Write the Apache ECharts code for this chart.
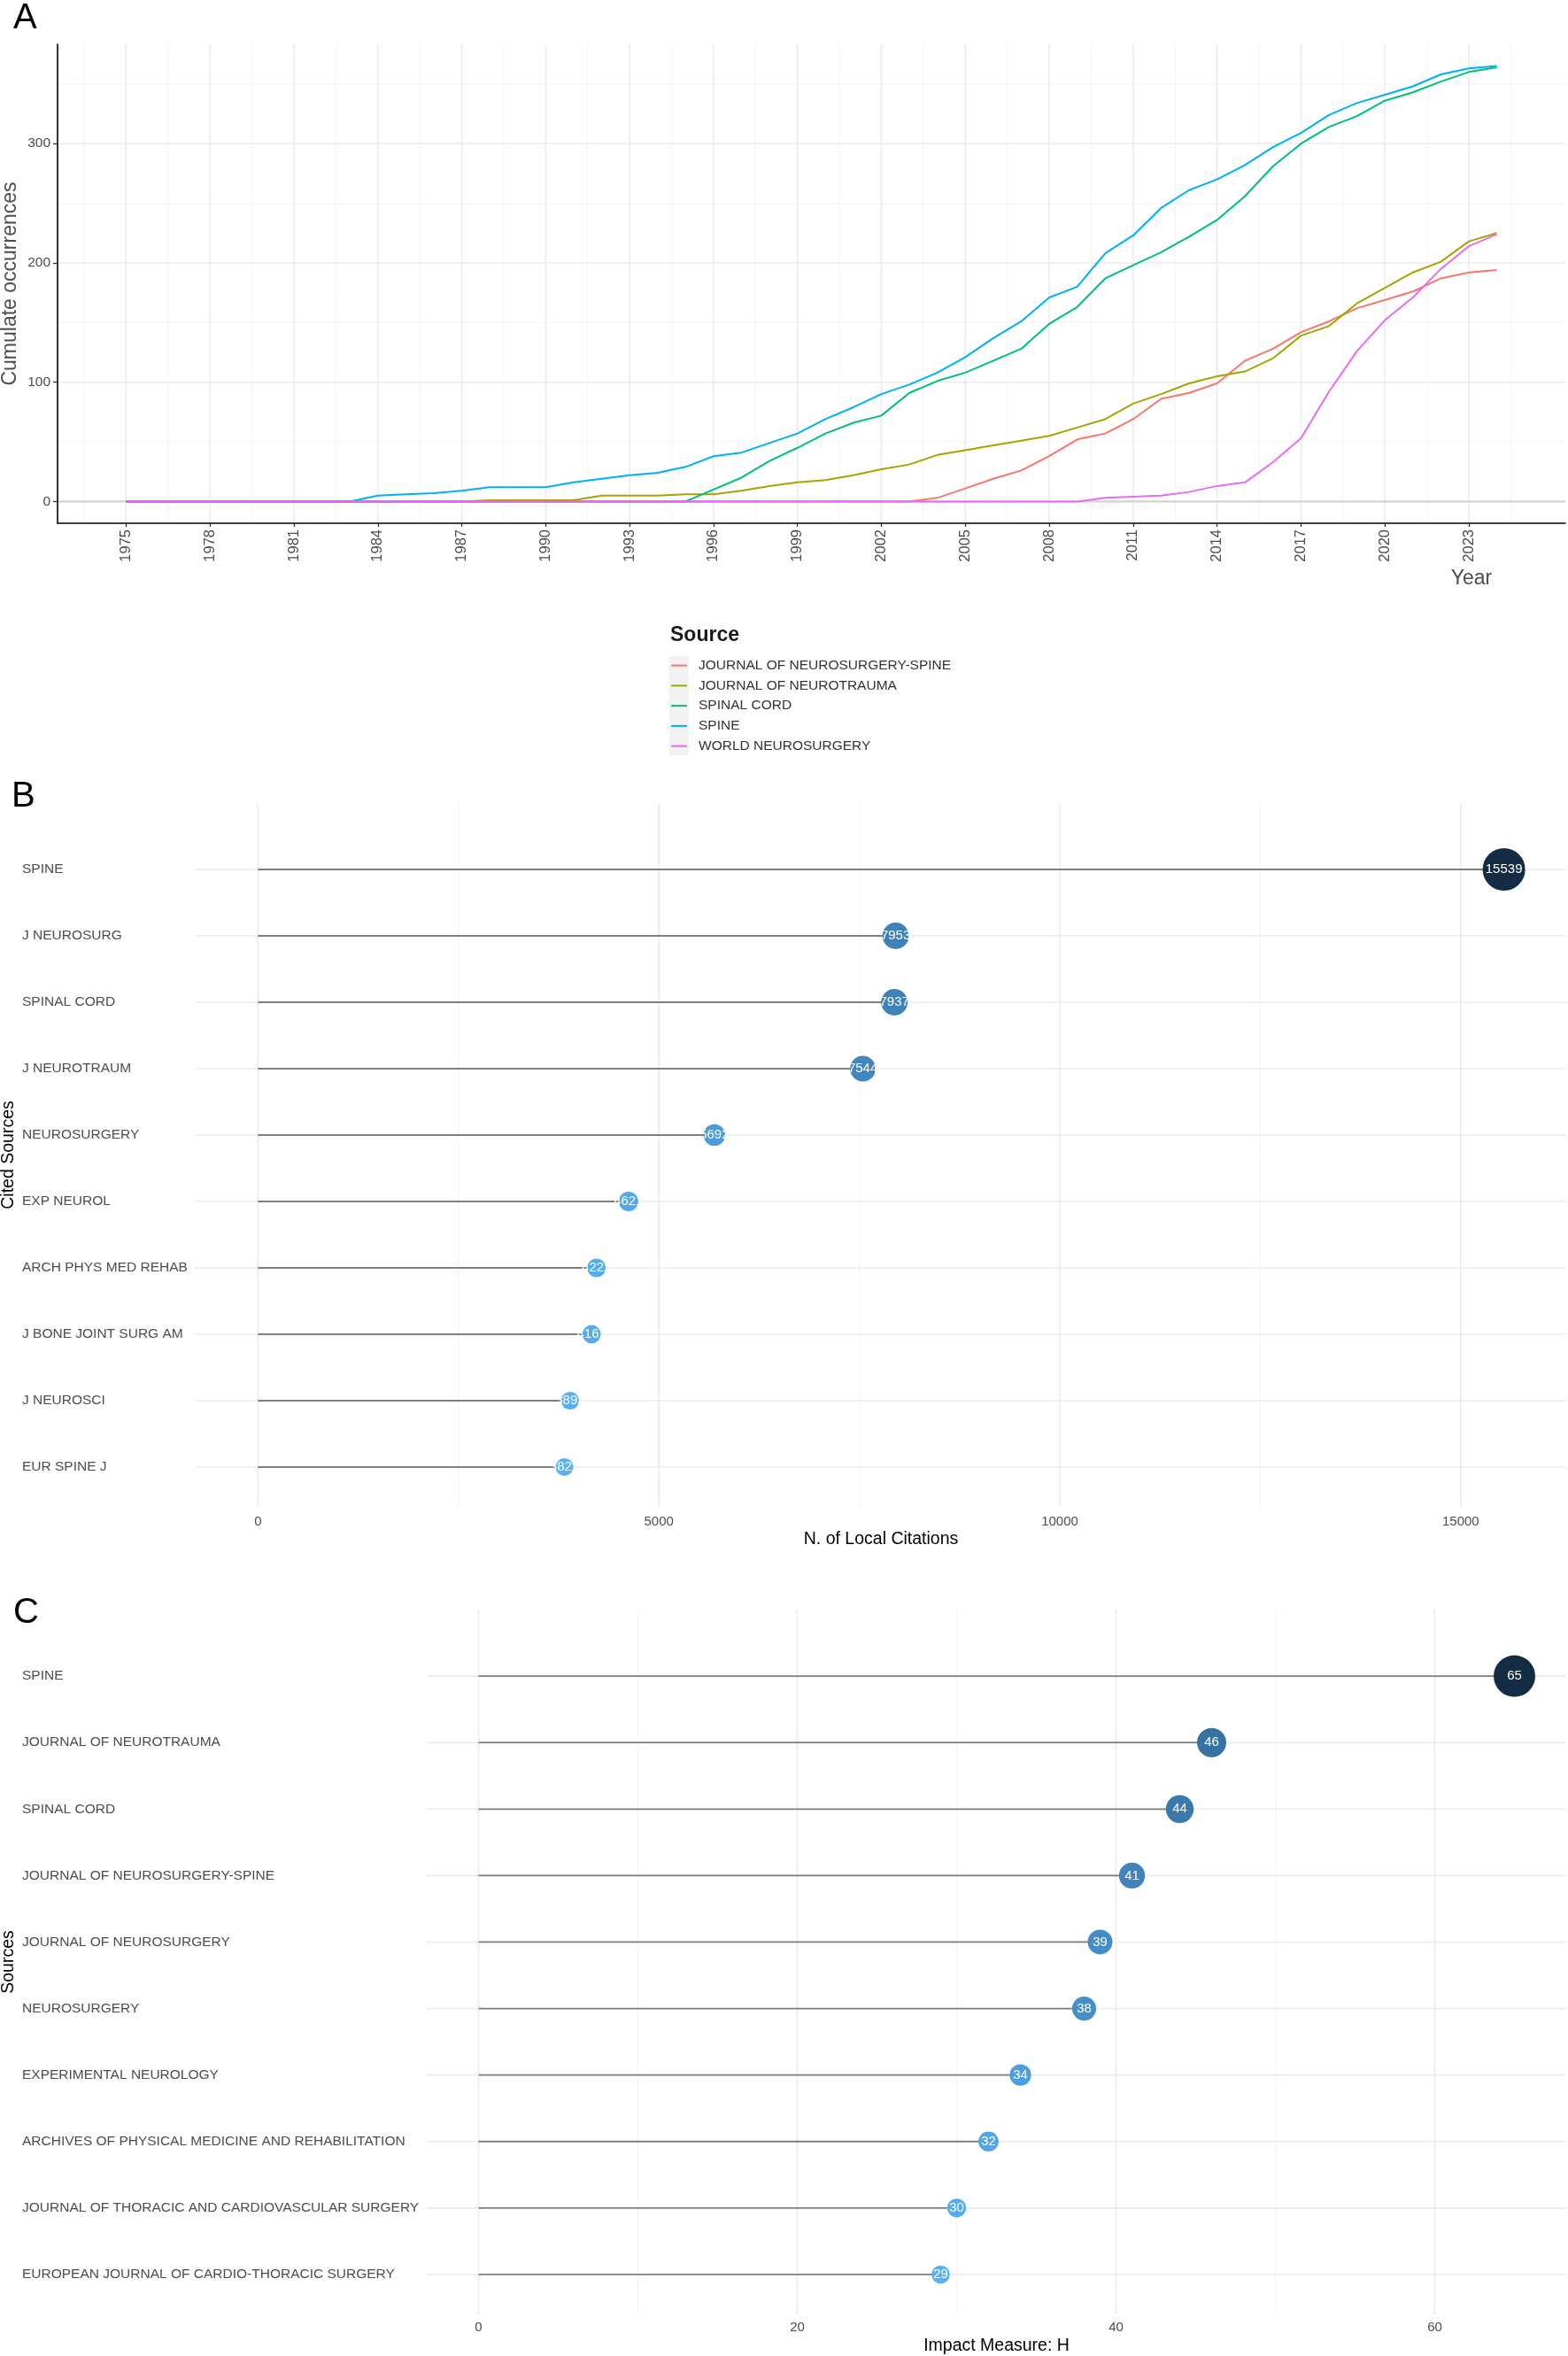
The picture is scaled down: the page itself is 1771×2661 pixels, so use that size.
<!DOCTYPE html>
<html>
<head>
<meta charset="utf-8">
<script src="https://cdn.jsdelivr.net/npm/echarts@6/dist/echarts.min.js"></script>
<style>
html, body { margin: 0; padding: 0; background: #fff; }
#chart { width: 1771px; height: 2661px; }
</style>
</head>
<body>
<div id="chart"></div>
<script>
// ---- panel A : cumulative occurrences by year ----
const years = [1975, 1976, 1977, 1978, 1979, 1980, 1981, 1982, 1983, 1984,
  1985, 1986, 1987, 1988, 1989, 1990, 1991, 1992, 1993, 1994,
  1995, 1996, 1997, 1998, 1999, 2000, 2001, 2002, 2003, 2004,
  2005, 2006, 2007, 2008, 2009, 2010, 2011, 2012, 2013, 2014,
  2015, 2016, 2017, 2018, 2019, 2020, 2021, 2022, 2023, 2024];
const sourceNames = ['JOURNAL OF NEUROSURGERY-SPINE', 'JOURNAL OF NEUROTRAUMA', 'SPINAL CORD', 'SPINE', 'WORLD NEUROSURGERY'];
const sourceColors = ['#F8766D', '#A3A500', '#00BF7D', '#00B0F6', '#E76BF3'];
const neuroSpine = [0, 0, 0, 0, 0, 0, 0, 0, 0, 0, 0, 0, 0, 0, 0, 0, 0, 0, 0, 0,
  0, 0, 0, 0, 0, 0, 0, 0, 0, 3, 11, 19, 26, 38, 52, 57, 69, 86, 91, 99,
  118, 128, 142, 151, 162, 169, 176, 187, 192, 194];
const neurotrauma = [0, 0, 0, 0, 0, 0, 0, 0, 0, 0, 0, 0, 0, 1, 1, 1, 1, 5, 5, 5,
  6, 6, 9, 13, 16, 18, 22, 27, 31, 39, 43, 47, 51, 55, 62, 69, 82, 90, 99, 105,
  109, 120, 139, 147, 166, 179, 192, 201, 218, 225];
const spinalCord = [0, 0, 0, 0, 0, 0, 0, 0, 0, 0, 0, 0, 0, 0, 0, 0, 0, 0, 0, 0,
  0, 10, 20, 34, 45, 57, 66, 72, 91, 101, 108, 118, 128, 149, 163, 187, 198, 209, 222, 236,
  256, 281, 300, 314, 323, 336, 343, 352, 360, 364];
const spine = [0, 0, 0, 0, 0, 0, 0, 0, 0, 5, 6, 7, 9, 12, 12, 12, 16, 19, 22, 24,
  29, 38, 41, 49, 57, 69, 79, 90, 98, 108, 121, 137, 151, 171, 180, 208, 223, 246, 261, 270,
  282, 297, 309, 324, 334, 341, 348, 358, 363, 365];
const worldNeuro = [0, 0, 0, 0, 0, 0, 0, 0, 0, 0, 0, 0, 0, 0, 0, 0, 0, 0, 0, 0,
  0, 0, 0, 0, 0, 0, 0, 0, 0, 0, 0, 0, 0, 0, 0, 3, 4, 5, 8, 13,
  16, 33, 53, 92, 126, 152, 171, 195, 214, 224];
const yearTicks = [1975, 1978, 1981, 1984, 1987, 1990, 1993, 1996, 1999, 2002, 2005, 2008, 2011, 2014, 2017, 2020, 2023];
const countTicks = [0, 100, 200, 300];

// ---- panel B : most local cited sources ----
const citedNames = ['SPINE', 'J NEUROSURG', 'SPINAL CORD', 'J NEUROTRAUM', 'NEUROSURGERY',
  'EXP NEUROL', 'ARCH PHYS MED REHAB', 'J BONE JOINT SURG AM', 'J NEUROSCI', 'EUR SPINE J'];
const citedValues = [15539, 7953, 7937, 7544, 5692, 4621, 4222, 4161, 3893, 3822];
const citeTicks = [0, 5000, 10000, 15000];

// ---- panel C : h-index of sources ----
const hNames = ['SPINE', 'JOURNAL OF NEUROTRAUMA', 'SPINAL CORD', 'JOURNAL OF NEUROSURGERY-SPINE',
  'JOURNAL OF NEUROSURGERY', 'NEUROSURGERY', 'EXPERIMENTAL NEUROLOGY',
  'ARCHIVES OF PHYSICAL MEDICINE AND REHABILITATION', 'JOURNAL OF THORACIC AND CARDIOVASCULAR SURGERY',
  'EUROPEAN JOURNAL OF CARDIO-THORACIC SURGERY'];
const hValues = [65, 46, 44, 41, 39, 38, 34, 32, 30, 29];
const hTicks = [0, 20, 40, 60];

const FONT = 'Liberation Sans, Arial, Helvetica, sans-serif';
const MAJOR = '#ebebeb', MINOR = '#f4f4f4';
const plain = v => String(v);

function mids(arr, addEnds) {
  let out = [];
  for (let i = 1; i < arr.length; i++) out.push((arr[i - 1] + arr[i]) / 2);
  if (addEnds) {
    const step = arr[1] - arr[0];
    out.unshift(arr[0] - step / 2);
    out.push(arr[arr.length - 1] + step / 2);
  }
  return out;
}

// gridlines drawn as a custom series so they follow the axis scale
function gridLines(idx, lines, refX, refY) {
  return {
    type: 'custom', xAxisIndex: idx, yAxisIndex: idx, silent: true, z: 0,
    data: lines.map(l => l.dir === 'v' ? [l.v, refY] : [refX, l.v]),
    renderItem: function (params, api) {
      const l = lines[params.dataIndex];
      const cs = params.coordSys;
      const p = api.coord([api.value(0), api.value(1)]);
      const shape = l.dir === 'v'
        ? { x1: p[0], y1: cs.y, x2: p[0], y2: cs.y + cs.height }
        : { x1: cs.x, y1: p[1], x2: cs.x + cs.width, y2: p[1] };
      return { type: 'line', shape: shape, style: { stroke: l.c, lineWidth: l.w } };
    }
  };
}
function lineSet(dir, vals, c, w) {
  return vals.map(v => ({ dir: dir, v: v, c: c, w: w }));
}

function stems(idx, values) {
  return {
    type: 'custom', xAxisIndex: idx, yAxisIndex: idx, silent: true, z: 2,
    data: values.map((v, i) => [v, i]),
    renderItem: function (params, api) {
      const p0 = api.coord([0, api.value(1)]);
      const p1 = api.coord([api.value(0), api.value(1)]);
      return { type: 'line', shape: { x1: p0[0], y1: p0[1], x2: p1[0], y2: p1[1] },
        style: { stroke: '#7f7f7f', lineWidth: 1.8 } };
    }
  };
}

function dots(idx, values, dMin, dMax) {
  const vMin = Math.min.apply(null, values), vMax = Math.max.apply(null, values);
  return {
    type: 'scatter', xAxisIndex: idx, yAxisIndex: idx, z: 3,
    data: values.map((v, i) => [v, i]),
    symbolSize: function (d) { return dMin + (dMax - dMin) * (d[0] - vMin) / (vMax - vMin); },
    itemStyle: { opacity: 1 },
    label: { show: true, position: 'inside', formatter: p => String(p.value[0]), color: '#fff', fontSize: 15, fontFamily: FONT }
  };
}

const rows = citedNames.map((n, i) => i);

const linesA = [].concat(
  lineSet('v', mids(yearTicks, true), MINOR, 1),
  lineSet('h', mids(countTicks, true).filter(v => v > -18), MINOR, 1),
  lineSet('v', yearTicks, MAJOR, 1.5),
  lineSet('h', countTicks, MAJOR, 1.5),
  lineSet('h', [0], '#d3d3d3', 2.2)
);
const linesB = [].concat(
  lineSet('v', mids(citeTicks, false), MINOR, 1),
  lineSet('v', citeTicks, MAJOR, 1.6),
  lineSet('h', rows, MAJOR, 1.6)
);
const linesC = [].concat(
  lineSet('v', mids(hTicks, false), MINOR, 1),
  lineSet('v', hTicks, MAJOR, 1.6),
  lineSet('h', rows, MAJOR, 1.6)
);

const seriesA = [neuroSpine, neurotrauma, spinalCord, spine, worldNeuro].map((arr, k) => ({
  name: sourceNames[k], type: 'line', xAxisIndex: 0, yAxisIndex: 0, z: 3,
  showSymbol: false, symbol: 'none',
  data: years.map((y, i) => [y, arr[i]]),
  lineStyle: { color: sourceColors[k], width: 2 },
  itemStyle: { color: sourceColors[k] }
}));

const chart = echarts.init(document.getElementById('chart'), null, { renderer: 'canvas' });
const option = {
  animation: false,
  backgroundColor: '#fff',
  textStyle: { fontFamily: FONT },
  grid: [
    { left: 65, top: 50, width: 1703, height: 541, containLabel: false, outerBoundsMode: 'none' },
    { left: 221, top: 907, width: 1548, height: 795, containLabel: false, outerBoundsMode: 'none' },
    { left: 482, top: 1818, width: 1287, height: 796, containLabel: false, outerBoundsMode: 'none' }
  ],
  xAxis: [
    {
      gridIndex: 0, type: 'value', min: 1972.55, max: 2026.45,
      axisLine: { show: true, onZero: false, lineStyle: { color: '#000', width: 1.6 } },
      axisTick: { show: true, customValues: yearTicks, length: 4, lineStyle: { color: '#333', width: 1.3 } },
      axisLabel: { customValues: yearTicks, formatter: plain, rotate: 90, fontSize: 16.5, color: '#4d4d4d', margin: 7, fontFamily: FONT },
      splitLine: { show: false }
    },
    {
      gridIndex: 1, type: 'value', min: -777, max: 16316,
      axisLine: { show: false }, axisTick: { show: false }, splitLine: { show: false },
      axisLabel: { customValues: citeTicks, formatter: plain, fontSize: 15, color: '#4d4d4d', margin: 9, fontFamily: FONT },
      name: 'N. of Local Citations', nameLocation: 'middle', nameGap: 27, nameMoveOverlap: false,
      nameTextStyle: { fontSize: 19.5, color: '#000', fontFamily: FONT }
    },
    {
      gridIndex: 2, type: 'value', min: -3.25, max: 68.25,
      axisLine: { show: false }, axisTick: { show: false }, splitLine: { show: false },
      axisLabel: { customValues: hTicks, formatter: plain, fontSize: 15, color: '#4d4d4d', margin: 7, fontFamily: FONT },
      name: 'Impact Measure: H', nameLocation: 'middle', nameGap: 26, nameMoveOverlap: false,
      nameTextStyle: { fontSize: 19.5, color: '#000', fontFamily: FONT }
    }
  ],
  yAxis: [
    {
      gridIndex: 0, type: 'value', min: -18.25, max: 383.25,
      axisLine: { show: true, onZero: false, lineStyle: { color: '#000', width: 1.6 } },
      axisTick: { show: true, customValues: countTicks, length: 5, lineStyle: { color: '#333', width: 1.3 } },
      axisLabel: { customValues: countTicks, formatter: plain, fontSize: 15.5, color: '#4d4d4d', margin: 8, fontFamily: FONT },
      splitLine: { show: false },
      name: 'Cumulate occurrences', nameLocation: 'middle', nameGap: 42, nameMoveOverlap: false,
      nameTextStyle: { fontSize: 23, color: '#4d4d4d', fontFamily: FONT }
    },
    {
      gridIndex: 1, type: 'value', inverse: true, min: -1, max: 9.6,
      axisLine: { show: false }, axisTick: { show: false }, splitLine: { show: false },
      axisLabel: { customValues: rows, formatter: v => citedNames[v], align: 'left', margin: 196,
        fontSize: 15.5, color: '#4d4d4d', fontFamily: FONT },
      name: 'Cited Sources', nameLocation: 'middle', nameGap: 201, nameMoveOverlap: false,
      nameTextStyle: { fontSize: 19.5, color: '#000', fontFamily: FONT }
    },
    {
      gridIndex: 2, type: 'value', inverse: true, min: -1, max: 9.6,
      axisLine: { show: false }, axisTick: { show: false }, splitLine: { show: false },
      axisLabel: { customValues: rows, formatter: v => hNames[v], align: 'left', margin: 457,
        fontSize: 15.5, color: '#4d4d4d', fontFamily: FONT },
      name: 'Sources', nameLocation: 'middle', nameGap: 462, nameMoveOverlap: false,
      nameTextStyle: { fontSize: 19.5, color: '#000', fontFamily: FONT }
    }
  ],
  legend: {
    data: sourceNames, orient: 'vertical', left: 758, top: 740.3, padding: 0,
    icon: 'rect', itemWidth: 18, itemHeight: 2, itemGap: 0, selectedMode: false,
    textStyle: { fontSize: 15.5, color: '#333', lineHeight: 22.75, padding: [0, 0, 0, 8], fontFamily: FONT }
  },
  visualMap: [
    { type: 'continuous', show: false, seriesIndex: 6 + 2, dimension: 0,
      min: Math.min.apply(null, citedValues), max: Math.max.apply(null, citedValues),
      inRange: { color: ['#56B1F7', '#132B43'] } },
    { type: 'continuous', show: false, seriesIndex: 6 + 5, dimension: 0,
      min: Math.min.apply(null, hValues), max: Math.max.apply(null, hValues),
      inRange: { color: ['#56B1F7', '#132B43'] } }
  ],
  graphic: [
    { type: 'rect', z: 1, shape: { x: 756, y: 741, width: 22, height: 112 }, style: { fill: '#f2f2f2' } },
    { type: 'text', x: 757, y: 718, style: { text: 'Source', fontSize: 23, fontWeight: 'bold', fill: '#1a1a1a', fontFamily: FONT, verticalAlign: 'middle' } },
    { type: 'text', x: 1662, y: 654, style: { text: 'Year', fontSize: 23, fill: '#4d4d4d', fontFamily: FONT, align: 'center', verticalAlign: 'middle' } },
    { type: 'text', x: 15, y: 21, style: { text: 'A', fontSize: 40, fill: '#000', fontFamily: FONT, verticalAlign: 'middle' } },
    { type: 'text', x: 13, y: 900, style: { text: 'B', fontSize: 40, fill: '#000', fontFamily: FONT, verticalAlign: 'middle' } },
    { type: 'text', x: 15, y: 1822, style: { text: 'C', fontSize: 40, fill: '#000', fontFamily: FONT, verticalAlign: 'middle' } }
  ],
  series: [gridLines(0, linesA, 2000, 0)].concat(seriesA, [
    gridLines(1, linesB, 0, 0),
    stems(1, citedValues),
    dots(1, citedValues, 20, 48),
    gridLines(2, linesC, 0, 0),
    stems(2, hValues),
    dots(2, hValues, 20.5, 47)
  ])
};
chart.setOption(option);
</script>
</body>
</html>
